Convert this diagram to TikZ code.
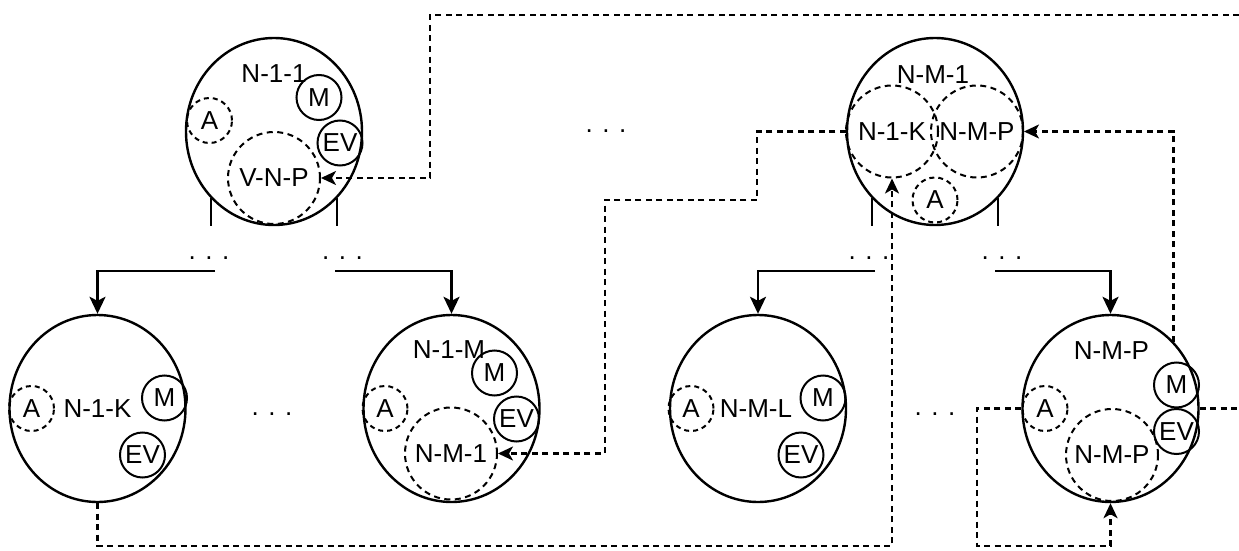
\documentclass[tikz,border=0pt]{standalone}
\usepackage{fontspec}
\setmainfont{Liberation Sans}
\usetikzlibrary{arrows.meta,shapes.geometric}
\begin{document}
\begin{tikzpicture}[x=1pt,y=-1pt,
  every node/.style={font=\fontsize{26}{30}\selectfont},
  hostnode/.style={ellipse,draw,line width=2.4pt,minimum width=176pt,minimum height=187pt,inner sep=0pt},
  unitnode/.style={circle,draw,line width=2pt,minimum size=45pt,inner sep=0pt},
  agentnode/.style={circle,draw,line width=2pt,dash pattern=on 5pt off 4pt,minimum size=45pt,inner sep=0pt},
  guestnode/.style={circle,draw,line width=2pt,dash pattern=on 6pt off 4.5pt,minimum size=92pt,inner sep=0pt},
  namenode/.style={inner sep=0pt},
  morenode/.style={inner sep=0pt,anchor=base},
  branchline/.style={line width=2.4pt,-{Stealth[length=17pt,width=16pt,inset=4pt]}},
  legline/.style={line width=2.4pt},
  flowline/.style={line width=2.4pt,dash pattern=on 6pt off 4.5pt},
  flowend/.style={-{Stealth[length=15pt,width=14pt,inset=4pt]}},
]
\fill[white] (0,0) rectangle (1239,551);
\useasboundingbox (0,0) rectangle (1239,551);

% ---- host N-1-1 ----
\node[hostnode] (n11) at (274,131.5) {};
\node[namenode] (n11-name) at (274,73.5) {N-1-1};
\node[unitnode] (n11-m) at (319,97.5) {M};
\node[unitnode] (n11-ev) at (340,143) {EV};
\node[agentnode] (n11-a) at (209.5,120.5) {A};
\node[guestnode] (n11-vm) at (274,178) {V-N-P};

% ---- host N-M-1 ----
\node[hostnode] (nm1) at (935,131.5) {};
\node[namenode] (nm1-name) at (933,75) {N-M-1};
\node[guestnode] (nm1-vk) at (892,131.5) {N-1-K};
\node[guestnode] (nm1-vp) at (977,131.5) {N-M-P};
\node[agentnode] (nm1-a) at (935,200) {A};

% ---- host N-1-K ----
\node[hostnode] (n1k) at (97.5,408.5) {};
\node[agentnode] (n1k-a) at (31.5,408.5) {A};
\node[namenode] (n1k-name) at (97.5,409) {N-1-K};
\node[unitnode] (n1k-m) at (164.5,398) {M};
\node[unitnode] (n1k-ev) at (142.5,455) {EV};

% ---- host N-1-M ----
\node[hostnode] (n1m) at (451.5,408.5) {};
\node[namenode] (n1m-name) at (449,350) {N-1-M};
\node[unitnode] (n1m-m) at (494.5,373) {M};
\node[unitnode] (n1m-ev) at (516.5,419) {EV};
\node[agentnode] (n1m-a) at (385,408.5) {A};
\node[guestnode] (n1m-vm) at (451,453.5) {N-M-1};

% ---- host N-M-L ----
\node[hostnode] (nml) at (758,408.5) {};
\node[agentnode] (nml-a) at (691,408.5) {A};
\node[namenode] (nml-name) at (756,409) {N-M-L};
\node[unitnode] (nml-m) at (823,398) {M};
\node[unitnode] (nml-ev) at (801,455) {EV};

% ---- host N-M-P ----
\node[hostnode] (nmp) at (1110.5,408.5) {};
\node[namenode] (nmp-name) at (1111.5,351) {N-M-P};
\node[unitnode] (nmp-m) at (1176.5,385) {M};
\node[unitnode] (nmp-ev) at (1176.5,431.5) {EV};
\node[agentnode] (nmp-a) at (1045,408.5) {A};
\node[guestnode] (nmp-vm) at (1112,455) {N-M-P};

% ---- elided siblings ----
\node[morenode] (dots-top) at (606,132) {. . .};
\node[morenode] (dots-left) at (272,415) {. . .};
\node[morenode] (dots-right) at (935,415) {. . .};
\node[morenode] (dots-a) at (209,259) {. . .};
\node[morenode] (dots-b) at (342.5,259) {. . .};
\node[morenode] (dots-c) at (869,259) {. . .};
\node[morenode] (dots-d) at (1002,259) {. . .};

% ---- tree links ----
\draw[legline] (n11.south west) -- (n11.south west |- n11.south);
\draw[legline] (n11.south east) -- (n11.south east |- n11.south);
\draw[legline] (nm1.south west) -- (nm1.south west |- nm1.south);
\draw[legline] (nm1.south east) -- (nm1.south east |- nm1.south);

\coordinate (fork-a) at (215,271);
\coordinate (fork-b) at (335,271);
\coordinate (fork-c) at (875,271);
\coordinate (fork-d) at (995,271);
\draw[branchline] (fork-a) -| (n1k.north);
\draw[branchline] (fork-b) -| (n1m.north);
\draw[branchline] (fork-c) -| (nml.north);
\draw[branchline] (fork-d) -| (nmp.north);

% ---- migration links ----
\coordinate (edge-top) at (1239,15);
\coordinate (edge-mid) at (1239,408.5);
\coordinate (low) at (0,546);

\draw[flowline,flowend] (edge-top) -| (430,178) -- (n11-vm.east);
\draw[flowline,flowend] (nmp.north east) |- (nm1-vp.east);
\draw[flowline,flowend] (nm1.west) -| (757,200) -| (605,453.5) -- (n1m-vm.east);
\draw[flowline,flowend] (n1k.south) |- (nm1-vk.south |- low) -- (nm1-vk.south);
\draw[flowline,flowend] (nmp.west) -| (977,546) -| (nmp.south);
\draw[flowline] (nmp.east) -- (edge-mid);
\end{tikzpicture}
\end{document}
